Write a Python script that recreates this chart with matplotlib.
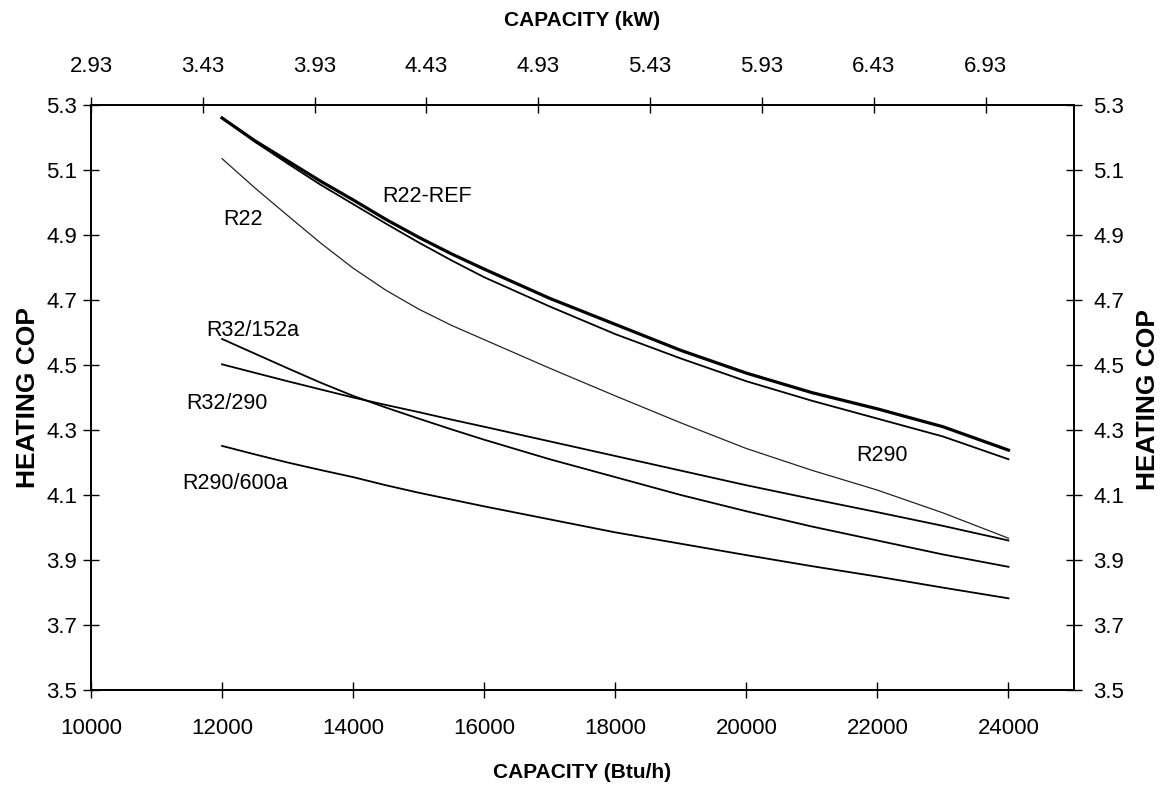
import numpy as np
import matplotlib
matplotlib.use("Agg")
import matplotlib.pyplot as plt

plt.rcParams['font.family'] = ['Liberation Sans', 'DejaVu Sans']

# Data
capacity_btu = [12000, 12500, 13000, 13500, 14000, 14500, 15000, 15500, 16000,
                17000, 18000, 19000, 20000, 21000, 22000, 23000, 24000]
cop_r22_ref = [5.26, 5.19, 5.128, 5.066, 5.008, 4.948, 4.893, 4.842, 4.795,
               4.705, 4.625, 4.545, 4.475, 4.415, 4.365, 4.31, 4.238]
cop_r290 = [5.26, 5.187, 5.12, 5.055, 4.995, 4.935, 4.877, 4.822, 4.77,
            4.68, 4.595, 4.52, 4.45, 4.39, 4.335, 4.28, 4.21]
cop_r22 = [5.135, 5.045, 4.96, 4.876, 4.798, 4.73, 4.672, 4.622, 4.578,
           4.49, 4.405, 4.322, 4.243, 4.176, 4.115, 4.045, 3.967]
cop_r32_152a = [4.58, 4.535, 4.49, 4.446, 4.405, 4.369, 4.335, 4.302, 4.27,
                4.21, 4.155, 4.10, 4.05, 4.003, 3.96, 3.917, 3.879]
cop_r32_290 = [4.502, 4.476, 4.45, 4.425, 4.40, 4.377, 4.355, 4.332, 4.31,
               4.265, 4.22, 4.175, 4.13, 4.088, 4.047, 4.005, 3.96]
cop_r290_600a = [4.251, 4.225, 4.20, 4.177, 4.155, 4.13, 4.107, 4.086, 4.065,
                 4.025, 3.985, 3.95, 3.915, 3.881, 3.849, 3.815, 3.782]

btu_ticks = [10000, 12000, 14000, 16000, 18000, 20000, 22000, 24000]
kw_ticks = [2.93, 3.43, 3.93, 4.43, 4.93, 5.43, 5.93, 6.43, 6.93]
cop_ticks = [3.5, 3.7, 3.9, 4.1, 4.3, 4.5, 4.7, 4.9, 5.1, 5.3]
btu_per_kw = 10000 / 2.93

fig = plt.figure(figsize=(11.66, 7.91), dpi=100)
ax = fig.add_axes([0.078, 0.1277, 0.8431, 0.7396])

ax.plot(capacity_btu, cop_r22_ref, color='black', lw=2.3)
ax.plot(capacity_btu, cop_r290, color='black', lw=1.3)
ax.plot(capacity_btu, cop_r22, color='#222222', lw=0.9)
ax.plot(capacity_btu, cop_r32_152a, color='black', lw=1.3)
ax.plot(capacity_btu, cop_r32_290, color='black', lw=1.3)
ax.plot(capacity_btu, cop_r290_600a, color='black', lw=1.3)

lbl = dict(fontsize=15.5, ha='center', va='center')
ax.text(15124, 5.017, 'R22-REF', **lbl)
ax.text(12318, 4.949, 'R22', **lbl)
ax.text(12471, 4.605, 'R32/152a', **lbl)
ax.text(12074, 4.380, 'R32/290', **lbl)
ax.text(12196, 4.134, 'R290/600a', **lbl)
ax.text(22063, 4.220, 'R290', **lbl)

xlim = (10000, 25000)
ylim = (3.5, 5.3)
ax.set_xlim(*xlim)
ax.set_ylim(*ylim)
ax.set_xticks(btu_ticks)
ax.set_xticklabels([str(v) for v in btu_ticks])
ax.set_yticks(cop_ticks)
ax.set_yticklabels([f'{v:.1f}' for v in cop_ticks])
ax.tick_params(axis='x', direction='inout', length=12, width=1, labelsize=16, pad=14)
ax.tick_params(axis='y', direction='inout', length=12, width=1, labelsize=16, pad=4)

ax_top = ax.twiny()
ax_top.set_xlim(*xlim)
ax_top.set_xticks([k * btu_per_kw for k in kw_ticks])
ax_top.set_xticklabels([f'{k:.2f}' for k in kw_ticks])
ax_top.tick_params(axis='x', direction='inout', length=12, width=1, labelsize=16, pad=14)

ax_right = ax.twinx()
ax_right.set_ylim(*ylim)
ax_right.set_yticks(cop_ticks)
ax_right.set_yticklabels([f'{v:.1f}' for v in cop_ticks])
ax_right.tick_params(axis='y', direction='inout', length=12, width=1, labelsize=16, pad=8)

for a in (ax, ax_top, ax_right):
    for s in a.spines.values():
        s.set_linewidth(1.1)

fig.text(0.5 * (91 + 1074) / 1166, 1 - 773 / 791, 'CAPACITY (Btu/h)',
         fontsize=15, fontweight='bold', ha='center', va='center')
fig.text(0.5 * (91 + 1074) / 1166, 1 - 20 / 791, 'CAPACITY (kW)',
         fontsize=15, fontweight='bold', ha='center', va='center')
fig.text(28 / 1166, 1 - 397 / 791, 'HEATING COP', fontsize=19,
         fontweight='bold', rotation=90, ha='center', va='center')
fig.text(1148 / 1166, 1 - 400 / 791, 'HEATING COP', fontsize=19,
         fontweight='bold', rotation=90, ha='center', va='center')

fig.savefig('out.png', dpi=100)
